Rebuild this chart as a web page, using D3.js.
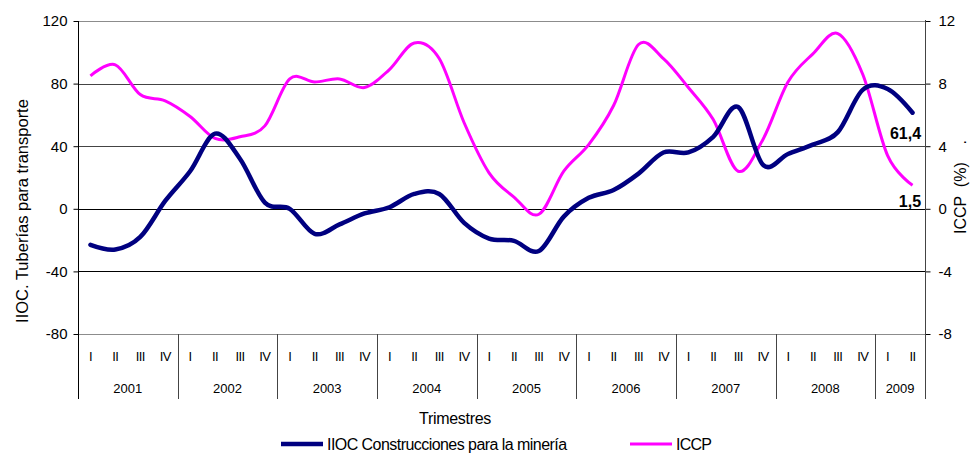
<!DOCTYPE html>
<html><head><meta charset="utf-8">
<script src="https://cdn.jsdelivr.net/npm/d3@7"></script>
<style>
body{margin:0;background:#fff;}
text{font-family:"Liberation Sans",Arial,sans-serif;fill:#000;}
</style></head>
<body><svg id="c" width="970" height="455"></svg>
<script>
const years = ["2001","2002","2003","2004","2005","2006","2007","2008","2009"];
const quarterNames = ["I","II","III","IV"];
const quartersPerYear = [4,4,4,4,4,4,4,4,2];
const iiocValues = [-23,-26,-18,5, 24,48,32,4, 0,-16,-10,-3, 1,9.5,9.5,-9, -19,-20.5,-27,-5, 7,12,22.5,36, 36,46,65,28, 35,41,49,76, 76.5,61.4];
const iccpValues = [8.5,9.2,7.3,6.9, 5.9,4.5,4.6,5.3, 8.3,8.1,8.3,7.75, 8.9,10.6,9.6,5.5, 2.3,0.75,-0.35,2.4, 4.1,6.6,10.5,9.6, 7.75,5.7,2.4,4.45, 8.1,9.9,11.2,8.6, 3.4,1.5];
const leftTicks = [-80,-40,0,40,80,120];
const rightTicks = [-8,-4,0,4,8,12];
const seriesNames = ["IIOC Construcciones para la minería","ICCP"];
const endLabels = ["61,4","1,5"];

const svg = d3.select("#c");
const L=78, R=925, T=21, B=334;
const quarters=[];
years.forEach((y,i)=>{for(let q=0;q<quartersPerYear[i];q++) quarters.push({year:y,q:quarterNames[q],key:y+"-"+q});});
const x = d3.scaleBand().domain(quarters.map(d=>d.key)).range([L,R]);
const xc = k => x(k)+x.bandwidth()/2;
const yL = d3.scaleLinear().domain([-80,120]).range([B,T]);
const yR = d3.scaleLinear().domain([-8,12]).range([B,T]);
const fmt = d => String(d);

// gridlines
svg.append("g").selectAll("line").data(leftTicks.filter(v=>v>-80)).join("line")
  .attr("x1",L).attr("x2",R).attr("y1",d=>Math.round(yL(d))+0.5).attr("y2",d=>Math.round(yL(d))+0.5)
  .attr("stroke",d=>d===120?"#8c8c8c":(d>0?"#444":"#000")).attr("stroke-width",1);
svg.append("line").attr("x1",L).attr("x2",R).attr("y1",Math.round(yL(-80))+0.5).attr("y2",Math.round(yL(-80))+0.5).attr("stroke","#8c8c8c");

// left axis
const gl = svg.append("g").attr("transform",`translate(${L+0.5},0)`)
  .call(d3.axisLeft(yL).tickValues(leftTicks).tickSize(5).tickPadding(6).tickFormat(fmt));
gl.select(".domain").remove();
gl.selectAll(".tick line").attr("stroke","#000");
gl.selectAll(".tick text").style("font-size","15px").attr("font-family","Liberation Sans, Arial");
svg.append("line").attr("x1",L+0.5).attr("x2",L+0.5).attr("y1",T).attr("y2",399).attr("stroke","#000");

// right axis
const gr = svg.append("g").attr("transform",`translate(${R+0.5},0)`)
  .call(d3.axisRight(yR).tickValues(rightTicks).tickSize(5).tickPadding(8).tickFormat(fmt));
gr.select(".domain").remove();
gr.selectAll(".tick line").attr("stroke","#000");
gr.selectAll(".tick text").style("font-size","15px").attr("font-family","Liberation Sans, Arial");
svg.append("line").attr("x1",R+0.5).attr("x2",R+0.5).attr("y1",T-1).attr("y2",399).attr("stroke","#444");

// category axis: quarters
svg.append("g").selectAll("text").data(quarters).join("text")
  .attr("x",d=>xc(d.key)).attr("y",361).attr("text-anchor","middle")
  .style("font-size","13px").style("letter-spacing","-0.6px").text(d=>d.q);
let idx=0;
const yearSpans = years.map((y,i)=>{const s=idx; idx+=quartersPerYear[i]; return {year:y,start:quarters[s].key,end:quarters[idx-1].key};});
svg.append("g").selectAll("line").data(yearSpans.slice(1)).join("line")
  .attr("x1",d=>Math.round(x(d.start))+0.5).attr("x2",d=>Math.round(x(d.start))+0.5)
  .attr("y1",B).attr("y2",399).attr("stroke","#444");
svg.append("g").selectAll("text").data(yearSpans).join("text")
  .attr("x",d=>(x(d.start)+x(d.end)+x.bandwidth())/2).attr("y",393).attr("text-anchor","middle")
  .style("font-size","13px").text(d=>d.year);

// lines
const curve = d3.curveCardinal.tension(0);
const lineL = d3.line().x((d,i)=>xc(quarters[i].key)).y(d=>yL(d)).curve(curve);
const lineR = d3.line().x((d,i)=>xc(quarters[i].key)).y(d=>yR(d)).curve(curve);
svg.append("path").attr("d",lineR(iccpValues)).attr("fill","none").attr("stroke","#ff00ff").attr("stroke-width",3).attr("stroke-linejoin","round");
svg.append("path").attr("d",lineL(iiocValues)).attr("fill","none").attr("stroke","#000080").attr("stroke-width",4.5).attr("stroke-linejoin","round").attr("stroke-linecap","round");

// end labels
const lastKey = quarters[quarters.length-1].key;
svg.append("text").attr("x",xc(lastKey)+8.5).attr("y",yL(iiocValues[iiocValues.length-1])+26).attr("text-anchor","end")
  .style("font-size","16px").style("font-weight","bold").text(endLabels[0]);
svg.append("text").attr("x",xc(lastKey)+8.5).attr("y",yR(iccpValues[iccpValues.length-1])+22).attr("text-anchor","end")
  .style("font-size","16px").style("font-weight","bold").text(endLabels[1]);

// axis titles
svg.append("text").attr("transform","translate(28,211) rotate(-90)").attr("text-anchor","middle")
  .style("font-size","16.5px").text("IIOC. Tuberías para transporte");
svg.append("text").attr("transform","translate(966,187) rotate(-90)").attr("text-anchor","middle")
  .style("font-size","16px").style("white-space","pre").text("ICCP  (%)    .");
svg.append("text").attr("x",455).attr("y",424).attr("text-anchor","middle").style("font-size","16px").style("letter-spacing","-0.3px").text("Trimestres");

// legend
const lg = svg.append("g");
lg.append("line").attr("x1",281).attr("x2",323).attr("y1",444).attr("y2",444).attr("stroke","#000080").attr("stroke-width",4.5);
lg.append("text").attr("x",327).attr("y",450).style("font-size","16px").style("letter-spacing","-0.55px").text(seriesNames[0]);
lg.append("line").attr("x1",630).attr("x2",672).attr("y1",444).attr("y2",444).attr("stroke","#ff00ff").attr("stroke-width",3);
lg.append("text").attr("x",676).attr("y",450).style("font-size","16px").style("letter-spacing","-0.8px").text(seriesNames[1]);
</script></body></html>
